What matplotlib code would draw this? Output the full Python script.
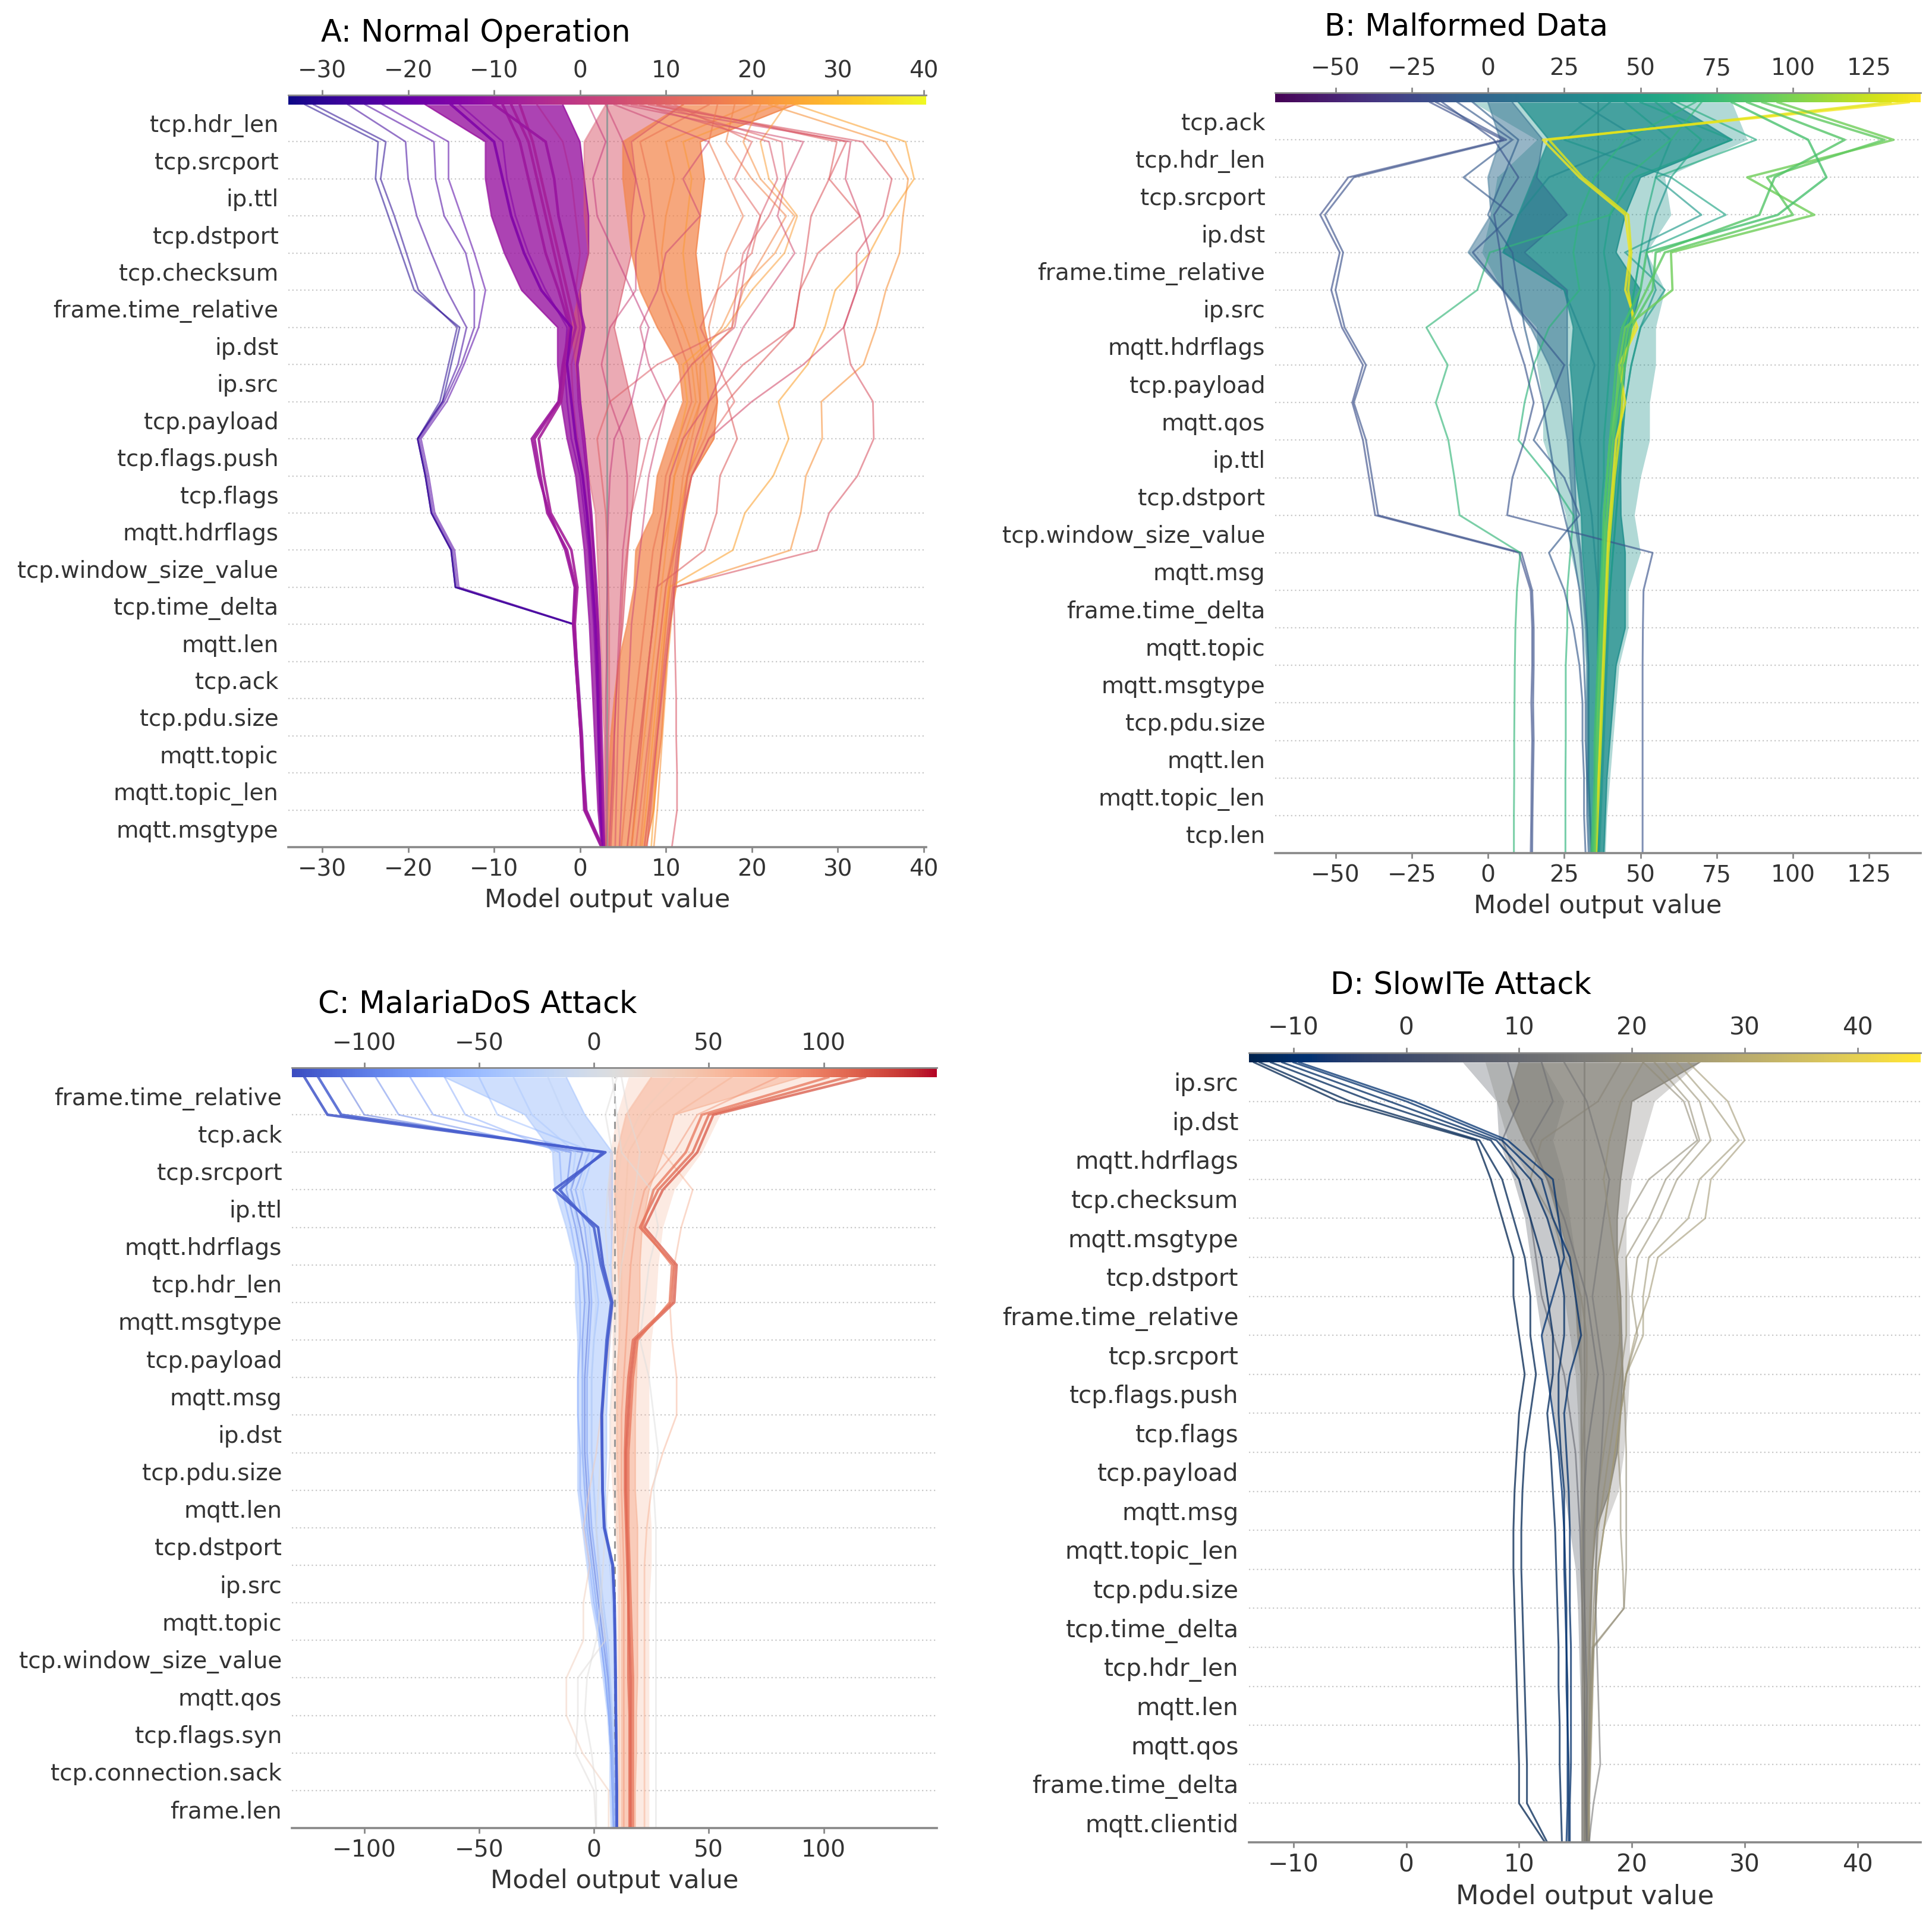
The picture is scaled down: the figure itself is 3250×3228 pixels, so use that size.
import numpy as np
import matplotlib.pyplot as plt
from matplotlib import cm
from matplotlib.colors import Normalize

W, H, DPI = 3250, 3228, 200

# every path lists the running model output from the top row (r0) down to the bottom (r20)
# dense bundles are given by their left / right edge per row

# ---------------- A: Normal Operation ----------------
A_FEATURES = ["tcp.hdr_len", "tcp.srcport", "ip.ttl", "tcp.dstport", "tcp.checksum",
              "frame.time_relative", "ip.dst", "ip.src", "tcp.payload", "tcp.flags.push",
              "tcp.flags", "mqtt.hdrflags", "tcp.window_size_value", "tcp.time_delta",
              "mqtt.len", "tcp.ack", "tcp.pdu.size", "mqtt.topic", "mqtt.topic_len", "mqtt.msgtype"]
A_BASE = 3.15
A_XLIM = (-33.95, 40.3)
A_TICKS = [-30, -20, -10, 0, 10, 20, 30, 40]

A_PURPLE_L = [-18, -11, -11, -10.3, -8.8, -6.8, -2.6, -2.6, -2.2, -1.5, -0.5, 0.0, 0.5, 0.8, 1.1, 1.3, 1.5, 1.7, 1.9, 2.1, 2.5]
A_PURPLE_R = [-2, 0, 0.5, 1, 1, 0, 0.3, -0.4, -0.2, 0.3, 0.8, 1.2, 1.6, 1.8, 2.1, 2.2, 2.3, 2.4, 2.5, 2.6, 2.8]
A_SALMON_L = [3, 0.5, 0.5, 0.5, 1, 0, -1, -0.5, 0, 0.5, 1, 1.8, 2, 2.2, 2.3, 2.5, 2.6, 2.8, 2.8, 2.8, 2.8]
A_SALMON_R = [12, 6, 6.5, 6, 6, 5, 4, 5, 6, 7, 6.5, 6, 5.6, 5.3, 5, 4.5, 4.2, 4, 4, 3.8, 3.6]
A_ORANGE_L = [12, 5, 5, 5.5, 6, 7, 9, 11.5, 12, 10.4, 9, 8.5, 6.5, 6.3, 5.5, 4.5, 4, 3.6, 3.4, 3.2, 3]
A_ORANGE_R = [25, 14, 14.5, 14, 13.5, 14, 14.5, 15.5, 16, 15.6, 13, 12.2, 11.6, 11.2, 10.5, 10.1, 9.8, 9.5, 9, 8.6, 7.7]

A_FAR_LEFT = [
    [-32, -23.5, -23.8, -22.3, -20.8, -19.3, -14.0, -15.0, -16.0, -18.9, -18.0, -17.3, -15.0, -14.5, -0.7, -0.5, -0.2, 0.1, 0.3, 0.6, 2.6],
    [-31, -22.6, -23.2, -21.6, -20.2, -18.8, -14.3, -15.3, -16.3, -18.9, -18.0, -17.3, -15.0, -14.5, -0.7, -0.5, -0.2, 0.1, 0.3, 0.6, 2.6],
    [-27, -20.3, -20.0, -19.0, -17.3, -15.5, -13.2, -14.2, -16.0, -18.9, -18.0, -17.3, -15.0, -14.5, -0.7, -0.4, -0.1, 0.2, 0.4, 0.7, 2.6],
    [-25, -17.0, -16.8, -15.8, -13.3, -12.3, -12.3, -13.8, -15.8, -18.7, -17.8, -17.1, -14.8, -14.3, -0.6, -0.4, -0.1, 0.2, 0.4, 0.7, 2.6],
    [-23, -15.3, -15.3, -13.8, -12.3, -11.0, -11.8, -13.5, -15.5, -18.5, -17.6, -16.9, -14.6, -14.1, -0.6, -0.3, 0.0, 0.3, 0.5, 0.8, 2.7],
]
A_PURPLE_V = [
    [-8, -6, -5, -4, -3, -2, -1, -1.9, -2.4, -5.3, -4.6, -3.8, -1.5, -0.5, -0.7, -0.5, -0.2, 0.1, 0.3, 0.6, 2.6],
    [-7, -5.5, -4.5, -3.5, -2.5, -1.5, -0.5, -1.6, -2.2, -4.8, -4.2, -3.4, -1.0, -0.3, -0.6, -0.4, -0.1, 0.2, 0.4, 0.7, 2.6],
    [-9, -7, -6, -5, -4, -2.5, -1.2, -2.0, -2.5, -5.6, -4.8, -3.6, -1.7, -0.6, -0.8, -0.5, -0.2, 0.1, 0.3, 0.5, 2.5],
    [-15, -10, -9, -8, -6.5, -4.5, -1.0, -1.5, -1.0, -0.5, 0.3, 0.8, 1.2, 1.5, 1.8, 2.0, 2.1, 2.2, 2.3, 2.4, 2.7],
    [-10, -4, -3, -2.5, -1.5, -0.5, 0.5, -0.3, 0.0, 0.5, 0.9, 1.3, 1.6, 1.9, 2.1, 2.3, 2.4, 2.5, 2.6, 2.7, 2.8],
]
A_INNER = [
    [-14, -9, -8.5, -7.5, -6, -4, -1.5, -1.8, -1.5, -1, 0, 0.5, 1, 1.3, 1.6, 1.8, 2, 2.1, 2.2, 2.3, 2.6],
    [-5, -2, -1, -0.5, 0, -0.5, 0, -1, -0.8, -0.3, 0.4, 0.9, 1.3, 1.6, 1.9, 2.1, 2.2, 2.3, 2.4, 2.5, 2.7],
    [20, 10, 11, 10, 9.5, 10, 12, 13.5, 14, 12.5, 11, 10.5, 9.5, 9, 8.5, 8, 7.6, 7.2, 6.8, 6.4, 6],
    [15, 7, 8, 8.5, 9, 9.5, 11, 12.5, 13, 11.5, 10, 9.5, 8.5, 8, 7.5, 7, 6.5, 6, 5.6, 5.2, 4.8],
    [23, 12, 13, 12.5, 12, 12.5, 13.5, 14.5, 15, 14, 12.5, 11.5, 10.8, 10.3, 9.8, 9.3, 8.9, 8.5, 8.1, 7.7, 7.2],
]
A_FAR_RIGHT = [
    [25, 37.9, 38.9, 36.0, 33.7, 29.7, 28.5, 26.5, 23.1, 24.3, 22.5, 19.2, 17.8, 10.4, 10.0, 9.6, 9.3, 9.0, 8.8, 8.6, 8.3],
    [22, 35.6, 38.2, 37.6, 37.2, 35.6, 34.5, 33.0, 28.1, 28.2, 26.3, 25.7, 24.5, 11.0, 10.6, 10.2, 9.9, 9.6, 9.3, 9.0, 8.6],
    [8, 32.9, 36.3, 35.3, 32.2, 32.2, 30.7, 31.5, 34.1, 34.2, 32.3, 29.0, 27.6, 10.9, 11.0, 11.1, 11.2, 11.2, 11.3, 11.3, 10.7],
    [10, 29.9, 29.0, 32.6, 27.7, 25.6, 24.9, 20.9, 17.1, 18.3, 16.3, 15.9, 14.5, 8.9, 8.5, 8.0, 7.6, 7.2, 6.8, 6.4, 6.0],
    [6, 31.5, 30.9, 32.6, 33.7, 32.2, 30.7, 26, 20, 15, 13, 12, 11.5, 11, 10.5, 10, 9.5, 9, 8.5, 8, 7.5],
    [9, 31, 29, 26.9, 26.3, 25.6, 24.9, 19, 15, 13.5, 12.5, 12, 11.3, 10.8, 10.3, 9.8, 9.4, 9, 8.6, 8.2, 7.8],
]
A_MID = [
    [24, 21, 22, 25.3, 23.8, 20, 17, 12, 12.5, 11.5, 10.5, 10, 9.5, 9, 8.5, 8, 7.5, 7, 6.5, 6, 5.5],
    [21, 19, 21, 25, 22.7, 18.5, 16.5, 13, 13.5, 12, 11, 10.5, 10, 9.5, 9, 8.5, 8, 7.5, 7, 6.5, 6],
    [18, 17, 20, 24, 21.5, 19, 17.7, 14, 14, 13, 12, 11.5, 10.8, 10, 9.5, 9, 8.6, 8.2, 7.8, 7.4, 7],
    [16, 15, 17, 19, 17, 16, 15, 15.5, 16, 14.5, 12.5, 11.8, 11, 10.5, 10, 9.6, 9.2, 8.8, 8.4, 8, 7.5],
    [9, 23.5, 24, 22, 19, 18.2, 17.7, 9, 3.5, 2, 2.5, 3, 3.2, 3.3, 3.4, 3.4, 3.4, 3.3, 3.3, 3.2, 3.1],
    [7, 22, 23, 21, 19.5, 18.8, 18, 13, 10, 8, 7, 6, 5.5, 5, 4.8, 4.6, 4.5, 4.4, 4.3, 4.2, 4.1],
    [3, 5, 6.5, 7.5, 6.5, 6.5, 3.5, 2.5, 3.5, 5, 5.5, 5.5, 5, 4.8, 4.6, 4.4, 4.2, 4, 3.8, 3.6, 3.4],
    [1, 3, 1.5, 2, 4, 6, 8, 7, 6, 4, 3.5, 3.3, 3.2, 3.2, 3.1, 3.1, 3.0, 3.0, 3.0, 3.0, 3.0],
    [5, 26, 24, 23, 25, 22, 19, 17, 15, 12, 10.5, 10, 9.5, 9, 8.5, 8, 7.5, 7, 6.5, 6, 5.5],
    [11, 20, 18, 21, 20, 16, 14, 16, 18, 15, 13, 12, 11, 10, 9.5, 9, 8.5, 8, 7.5, 7, 6.5],
    [4, 15, 12, 14, 10, 9, 7, 8, 10, 9, 8, 7.5, 7, 6.5, 6, 5.8, 5.5, 5.2, 5, 4.8, 4.6],
]

# ---------------- B: Malformed Data ----------------
B_FEATURES = ["tcp.ack", "tcp.hdr_len", "tcp.srcport", "ip.dst", "frame.time_relative", "ip.src",
              "mqtt.hdrflags", "tcp.payload", "mqtt.qos", "ip.ttl", "tcp.dstport",
              "tcp.window_size_value", "mqtt.msg", "frame.time_delta", "mqtt.topic",
              "mqtt.msgtype", "tcp.pdu.size", "mqtt.len", "mqtt.topic_len", "tcp.len"]
B_BASE = 36.0
B_XLIM = (-69.8, 141.9)
B_TICKS = [-50, -25, 0, 25, 50, 75, 100, 125]

B_SPREAD_L = [-5, 16, 3, 1, -2, 4.7, 16, 16, 18, 18, 22, 25.5, 27, 30, 31, 32, 32, 32, 32, 32.5, 33]
B_SPREAD_R = [80, 85, 58, 60, 52, 58, 55, 55, 53, 53, 50, 48, 50, 46, 46, 43, 42, 41, 40, 39, 38.5]
B_CORE_L = [10, 20, 15, 10, 5, 25, 28, 27, 28, 28, 29, 30.6, 31, 32, 32.5, 33, 33, 33, 33, 33.5, 34]
B_CORE_R = [60, 80, 50, 45, 42, 50, 47, 45, 44, 44, 43.5, 43.6, 45, 45, 45, 42, 41, 40, 39, 38.5, 38]
B_DARK_L = [0, 4, 0, 1, -6.5, 4.7, 14, 20, 24, 26, 27, 28, 30, 31, 32, 32.5, 32.5, 32.5, 32.5, 33, 33.5]
B_DARK_R = [8, 18, 16, 26, 12, 26, 26, 26, 27, 28, 28.5, 29, 30.5, 31.5, 32.5, 33, 33, 33, 33, 33.5, 34]

B_BRIGHT = [
    [138, 18, 30, 45, 46.5, 45, 49, 43, 45, 42, 41, 40, 39, 38.5, 38, 37.5, 37, 36.5, 36, 35.5, 35],
    [132, 20, 31, 46, 47, 46, 48, 44, 44, 43, 41.5, 40.5, 39.5, 39, 38.5, 38, 37.5, 37, 36.5, 36, 35.5],
    [95, 133, 85, 107, 60, 60.5, 45, 43, 42, 40, 39, 38, 38, 37, 37, 36.5, 36, 36, 35.5, 35.5, 35],
    [90, 130, 91.5, 100, 58, 52, 46, 44, 42, 41, 40, 39, 38, 37.5, 37, 36.5, 36, 35.5, 35.5, 35, 35],
    [85, 117, 94, 89, 55, 54, 47, 45, 43, 41, 40, 39, 38.5, 38, 37.5, 37, 36.5, 36, 35.5, 35, 34.5],
    [80, 105, 111, 95, 52, 50, 44, 42, 41, 40, 39, 38, 37.5, 37, 36.5, 36, 35.5, 35, 35, 34.5, 34],
]
B_OTHER = [
    [62, 88, 55, 52, 50, 48, 45, 44, 43, 42, 41, 40, 40, 39, 38.5, 38, 37.5, 37, 36.5, 36, 36],
    [50, 80, 48, 40, 38, 40, 40, 40, 39, 38, 38, 37, 37, 36.5, 36, 36, 35.5, 35, 35, 35, 35],
    [40, 25, 60, 55, 52, 55, 50, 47, 45, 44, 43, 42, 41, 40, 39.5, 39, 38.5, 38, 37.5, 37, 36.5],
    [55, 70, 60, 78, 50, 48, 46, 45, 44, 43, 42, 41, 40, 39, 38.5, 38, 37.5, 37, 36.5, 36, 36],
    [45, 60, 55, 70, 45, 58, 50, 47, 45, 44, 43, 42, 41, 40, 39, 38.5, 38, 37.5, 37, 36.5, 36],
    [30, 50, 20, 10, 5, 25, 30, 35, 32, 30, 32, 34, 35, 36, 36, 36, 35.5, 35.5, 35, 35, 35],
    [-19, 5, -45.8, -55, -48.6, -51.4, -47.9, -41, -44.5, -41, -39, -37, 10.2, 14, 14.5, 14.5, 14.2, 14.5, 14.3, 14.2, 14],
    [-17, 6, -44, -53.5, -47.5, -50, -47, -40, -44, -40, -38, -36, 11, 14.5, 15, 15, 14.8, 15, 14.8, 14.6, 14.5],
    [70, 60, 45, 40, 0.6, -3.5, -20.2, -13.2, -17.1, -13, -11, -9.3, 10.6, 9.5, 9, 8.8, 8.7, 8.6, 8.6, 8.5, 8.5],
    [68, 45, 35, 30, 28, 30, 20, 15, 12, 10, 20, 28, 27, 26, 26, 25.5, 25.5, 25.5, 25.4, 25.4, 25.4],
    [-15, 2, 10, 2, 4, 5, 8, 12, 15, 12, 8, 6.3, 54, 51, 50.8, 50.7, 50.7, 50.7, 50.7, 50.7, 50.7],
    [-5, 10, 5, 0, 8, 10, 12, 15, 18, 20, 22, 25, 28, 30, 31, 31.5, 32, 32, 32.5, 32.5, 33],
    [-10, 8, -8, 8, -5, 5, 15, 25, 20, 15, 25, 30, 20, 25, 28, 30, 31, 31, 31.5, 31.5, 32],
]

# ---------------- C: MalariaDoS Attack ----------------
C_FEATURES = ["frame.time_relative", "tcp.ack", "tcp.srcport", "ip.ttl", "mqtt.hdrflags",
              "tcp.hdr_len", "mqtt.msgtype", "tcp.payload", "mqtt.msg", "ip.dst", "tcp.pdu.size",
              "mqtt.len", "tcp.dstport", "ip.src", "mqtt.topic", "tcp.window_size_value",
              "mqtt.qos", "tcp.flags.syn", "tcp.connection.sack", "frame.len"]
C_BASE = 8.9
C_XLIM = (-131.5, 149.3)
C_TICKS = [-100, -50, 0, 50, 100]

C_BLUE_L = [-65, -30, -18, -17, -12, -8, -8, -7, -7, -7, -7, -7, -5, -3, -1, 2, 4, 6, 7, 7, 7.5]
C_BLUE_R = [-12, -4, 8, 8, 8, 7.5, 8.3, 7, 6, 5.5, 5.5, 5, 5.5, 7, 8, 9, 9.5, 9.8, 10, 10, 10]
C_WARM_L = [15, 10, 7, 6, 7, 8, 8, 8, 8, 7, 7, 8, 9, 10, 10, 10, 10, 10, 10, 10, 10]
C_WARM_R = [115, 55, 47, 35, 30, 28, 27, 25, 24, 24, 24, 24, 25, 25, 24, 24, 24, 24, 24, 24, 24]
C_CORE_L = [25, 14, 10, 9, 10, 10.5, 11, 11, 10, 10, 10, 10.5, 11, 11.5, 12, 12, 12, 12, 12, 12, 12]
C_CORE_R = [90, 35, 30, 24, 21, 20, 20, 19, 18.5, 18, 18, 18, 19, 19, 19, 19, 19, 18.5, 18.5, 18, 18]

C_BLUE_BOLD = [
    [-126, -116, 5, -17.5, 1.8, 4, 8, 6, 4.6, 3.5, 3.6, 3.8, 4.6, 8.3, 9, 9.3, 9.5, 9.6, 9.8, 10, 10],
    [-120, -110, 4, -15, 0, 3, 7.5, 5.5, 4.4, 3.3, 3.5, 3.7, 4.4, 8, 8.8, 9.1, 9.3, 9.5, 9.7, 9.8, 9.9],
]
C_BLUE_FAN = [
    [-110, -100, -5, -10, -6, -3, -2, -3, -4, -4, -4, -3, -2, 0, 2, 4, 6, 7, 8, 8.5, 9],
    [-95, -85, -10, -12, -8, -5, -4, -5, -5, -5, -5, -4, -3, -1, 1, 3, 5, 6.5, 7.5, 8, 8.5],
    [-80, -70, -2, -8, -4, -2, -1, -2, -3, -3, -3, -2, -1, 1, 3, 5, 6.5, 7.5, 8.3, 8.8, 9.2],
    [-65, -56, -15, -14, -10, -7, -6, -6, -7, -7, -6, -6, -4, -2, 0, 3, 5, 6.5, 7.5, 8, 8.5],
    [-50, -42, 0, -5, -2, 0, 2, 0, -1, -1, -1, 0, 1, 2, 4, 6, 7, 8, 9, 9.3, 9.6],
    [-35, -27, -8, -10, -7, -5, -3, -4, -5, -5, -5, -4, -3, -1, 1, 3.5, 5.5, 7, 8, 8.5, 9],
    [-20, -13, -2, -6, -3, -1, 1, 0, -1, -1, -1, 0, 1, 2.5, 4, 6, 7, 8, 8.8, 9.2, 9.5],
]
C_RED = [
    [118, 52, 45, 30, 22, 36, 35, 18, 16, 15, 14, 14, 14.5, 15, 15, 15.5, 16, 16, 16, 16, 16],
    [110, 50, 43, 28, 20, 35, 34, 17, 15, 14, 13.5, 13.5, 14, 14.5, 15, 15, 15, 15.5, 15.5, 15.5, 15.5],
    [102, 47, 40, 26, 21, 34, 33, 19, 17, 16, 15, 15, 15, 15.5, 16, 16.5, 17, 17, 17, 17, 17],
]
C_OTHER = [
    [60, 35, 30, 43, 38, 35, 33, 34, 36, 36, 30, 25, 23, 22, 22, 22, 22, 22, 22, 22, 22],
    [35, 20, 12, 10, 9, 8, 8, 7, 5, 3, 1, -2, -4.6, -1.8, -4.6, -4.6, -12, -12, -5, 6.4, 6.4],
    [45, 25, 15, 14, 13, 12, 12, 11, 10, 10, 10, 10, 10, 11, 11, 11, 11, 11, 11, 11, 11],
    [80, 45, 35, 22, 18, 16, 15, 14, 13, 12, 12, 12, 12.5, 13, 13, 13, 13, 13, 13, 13, 13],
    [12, 15, 20, 18, 15, 12, 10, 9, 8, 7, 7, 6, 5, 4, 3, 5, -7, -7, -8, 0, 0.9],
    [8, 10, 12, 25, 28, 24, 22, 20, 24, 26, 28, 26, 27, 27, 27, 27, 27, 27, 27, 27, 27],
    [10, 5, 8, 6, 5, 6, 7, 6, 5, 4, 3, 2, 1, 2, 3, 1, -3, -4, -1, 1, 1],
]

# ---------------- D: SlowITe Attack ----------------
D_FEATURES = ["ip.src", "ip.dst", "mqtt.hdrflags", "tcp.checksum", "mqtt.msgtype", "tcp.dstport",
              "frame.time_relative", "tcp.srcport", "tcp.flags.push", "tcp.flags", "tcp.payload",
              "mqtt.msg", "mqtt.topic_len", "tcp.pdu.size", "tcp.time_delta", "tcp.hdr_len",
              "mqtt.len", "mqtt.qos", "frame.time_delta", "mqtt.clientid"]
D_BASE = 15.8
D_XLIM = (-13.94, 45.6)
D_TICKS = [-10, 0, 10, 20, 30, 40]

D_SLATE_L = [5, 8, 8.2, 9.5, 10.5, 11, 11.5, 12, 12.5, 13, 13.5, 14, 14.5, 15, 15.2, 15.3, 15.4, 15.5, 15.5, 15.5, 15.5]
D_SLATE_R = [12, 14, 13, 14, 14.5, 15, 15.5, 15.5, 15.6, 15.6, 15.6, 15.6, 15.6, 15.6, 15.6, 15.6, 15.6, 15.6, 15.6, 15.6, 15.6]
D_SPREAD_L = [7, 8, 9, 11, 12.5, 13.5, 14, 14.5, 15, 15.2, 15.3, 15.4, 15.5, 15.5, 15.5, 15.5, 15.5, 15.5, 15.5, 15.5, 15.5]
D_SPREAD_R = [26, 22, 21, 20, 19.5, 19.5, 19.8, 19.8, 19.8, 19.6, 19.3, 18.8, 17.5, 17, 16.8, 16.7, 16.6, 16.5, 16.4, 16.3, 16.3]
D_CORE_L = [10, 9, 10.5, 12.5, 13.5, 14.5, 15, 15.2, 15.5, 15.5, 15.5, 15.6, 15.6, 15.6, 15.6, 15.6, 15.6, 15.6, 15.6, 15.6, 15.6]
D_CORE_R = [26, 20, 19.5, 19, 18.7, 18.7, 19, 19.1, 19.2, 19, 18.7, 18, 16.8, 16.5, 16.4, 16.3, 16.3, 16.2, 16.2, 16.2, 16.2]

D_NAVY = [
    [-13.5, -6, 6.2, 7.5, 8.5, 9.5, 9.5, 10, 10.5, 10, 9.8, 9.6, 9.5, 9.5, 9.6, 9.7, 9.8, 9.9, 10, 10, 12.3],
    [-13, -5, 6.5, 8.5, 9.5, 10.5, 11, 11, 11.5, 11, 10.5, 10.3, 10.2, 10.2, 10.3, 10.4, 10.5, 10.6, 10.7, 10.7, 12.5],
    [-12, -3, 7.5, 10, 11, 12, 12.5, 13, 13, 12.5, 12.8, 13, 13.2, 13.3, 13.4, 13.5, 13.5, 13.6, 13.6, 13.7, 13.8],
    [-11, -1.5, 8, 11, 12.5, 13.5, 14, 14, 13.5, 13.5, 13.7, 14, 14, 14.1, 14.2, 14.2, 14.3, 14.3, 14.4, 14.4, 14.4],
    [-10, 0, 8.5, 12, 13, 14.5, 15, 15.5, 14.5, 14, 14.2, 14.4, 14.5, 14.5, 14.5, 14.6, 14.6, 14.6, 14.6, 14.5, 14.5],
    [-9.5, 0.7, 9, 13, 13.5, 14, 13, 12, 12.5, 13, 13.5, 13.8, 14, 14, 14.1, 14.2, 14.2, 14.3, 14.3, 14.3, 14.2],
]
D_OTHER = [
    [25, 28.5, 30, 27, 26.5, 22.3, 21.5, 20.3, 19.5, 19, 18.5, 18, 17.5, 17, 16.8, 16.6, 16.5, 16.4, 16.3, 16.2, 16.2],
    [24, 27, 29.5, 26, 25, 21.5, 21, 21, 19.5, 19, 18.5, 18, 17.5, 17, 16.8, 16.6, 16.5, 16.4, 16.3, 16.2, 16.2],
    [23, 26, 27, 24, 22.5, 20.5, 20, 20.5, 19.5, 19, 18.8, 19, 19, 19.2, 19.3, 16.5, 16.3, 16.2, 16.1, 16, 16],
    [22, 25, 26, 23, 21.5, 19.5, 19.5, 19.5, 19, 18.5, 18, 17.5, 17, 16.8, 16.6, 16.5, 16.4, 16.3, 16.2, 16.1, 16],
    [21, 24.6, 25.8, 21.5, 19.5, 18.7, 18.7, 19, 18.5, 18, 17.5, 17, 16.7, 16.5, 16.3, 16.2, 16.1, 16, 16, 15.9, 15.9],
    [9, 10, 8.5, 10, 11, 11.5, 12, 13, 14, 14.5, 15, 15.2, 15.4, 15.5, 15.6, 15.7, 15.8, 15.8, 15.9, 15.9, 16],
    [19, 17, 12, 11, 13, 14, 15.5, 16, 16, 15.8, 15.6, 15.5, 15.5, 15.5, 15.6, 15.7, 15.8, 15.9, 16, 16, 16.1],
    [14, 16, 17, 18, 17.5, 17, 16.5, 17, 17.5, 17.5, 17.3, 17, 16.9, 16.8, 16.8, 16.9, 17, 17.1, 17.2, 16.6, 16.2],
    [21, 19, 18, 17.5, 18, 18.5, 19, 18.9, 19.2, 19.4, 19.5, 19.5, 19.5, 19.5, 19.3, 16.6, 16.4, 16.3, 16.2, 16.1, 16],
    [12, 13, 11, 12.5, 14, 15, 16, 16.5, 17, 16.5, 16, 15.8, 15.7, 15.7, 15.8, 15.9, 16, 16, 16, 16, 16],
]

TXT = "#333333"
GRID = "#c8c8c8"
AXC = "#888888"
ROWS = np.arange(20, -1, -1)

fig = plt.figure(figsize=(W / DPI, H / DPI), dpi=DPI)


def panel(box, title, title_at, feats, base, xlim, ticks, cmap_name, bands, groups,
          base_ls="-", base_top=True, s=1.0):
    x0, y0, x1, y1 = box
    ax = fig.add_axes([x0 / W, 1 - y1 / H, (x1 - x0) / W, (y1 - y0) / H])
    cmap = plt.get_cmap(cmap_name)
    norm = Normalize(*xlim)

    for left, right, alpha, edge in bands:
        c = cmap(norm((left[0] + right[0]) / 2))
        ax.fill_betweenx(ROWS, left, right, color=c, alpha=alpha, lw=0, zorder=1.5)
        if edge:
            ax.plot(left, ROWS, color=c, lw=0.9, alpha=alpha, zorder=1.6)
            ax.plot(right, ROWS, color=c, lw=0.9, alpha=alpha, zorder=1.6)

    for paths, lw, alpha in groups:
        for p in paths:
            ax.plot(p, ROWS, color=cmap(norm(p[0])), lw=lw, alpha=alpha, zorder=2)

    ax.axvline(base, color="#999999", lw=1.1, ls=base_ls, zorder=1.8 if base_top else 0.5)
    for i in range(1, 20):
        ax.axhline(i, color=GRID, lw=0.8, dashes=(1, 2), zorder=0)

    ax.set_xlim(xlim)
    ax.set_ylim(0, 20)
    ax.set_yticks(np.arange(20) + 0.5)
    ax.set_yticklabels(feats[::-1])
    ax.set_xticks(ticks)
    for sp in ("top", "left", "right"):
        ax.spines[sp].set_visible(False)
    ax.spines["bottom"].set_color(AXC)
    ax.spines["bottom"].set_linewidth(1.3)
    ax.tick_params(axis="y", length=0, pad=6 * s, labelsize=13.9 * s, labelcolor=TXT)
    ax.tick_params(axis="x", length=3.2, width=1, color=AXC, pad=3.5,
                   labelsize=14.0 * s, labelcolor=TXT)
    ax.set_xlabel("Model output value", fontsize=15.4 * s, color=TXT, labelpad=4 * s)

    # colour bar strip on top, a quarter of a row high
    cax = ax.inset_axes([0, 1, 1, 0.25 / 20])
    cb = fig.colorbar(cm.ScalarMappable(norm=norm, cmap=cmap), cax=cax, orientation="horizontal")
    cb.outline.set_visible(False)
    cb.minorticks_off()
    cb.set_ticks(ticks)
    cax.xaxis.set_ticks_position("top")
    cax.tick_params(axis="x", length=3.2, width=1, color=AXC, pad=4.5,
                    labelsize=14.0 * s, labelcolor=TXT)
    cax.plot([0, 1], [1, 1], transform=cax.transAxes, color=AXC, lw=1, clip_on=False)

    fig.text(title_at[0] / W, 1 - title_at[1] / H, title, ha="center", va="center",
             fontsize=18.3, color="black")
    return ax


panel((485, 176, 1558, 1425), "A: Normal Operation", (800, 56), A_FEATURES, A_BASE, A_XLIM,
      A_TICKS, "plasma",
      [(A_PURPLE_L, A_PURPLE_R, 0.8, True), (A_SALMON_L, A_SALMON_R, 0.5, True),
       (A_ORANGE_L, A_ORANGE_R, 0.72, True)],
      [(A_INNER, 1.0, 0.6), (A_FAR_LEFT, 1.0, 0.55), (A_FAR_RIGHT, 1.0, 0.6), (A_MID, 1.0, 0.55),
       (A_PURPLE_V, 1.6, 0.9)],
      base_ls="-", base_top=True, s=1.0)

panel((2145, 172, 3231, 1435), "B: Malformed Data", (2466, 46), B_FEATURES, B_BASE, B_XLIM,
      B_TICKS, "viridis",
      [(B_SPREAD_L, B_SPREAD_R, 0.35, False), (B_CORE_L, B_CORE_R, 0.75, True),
       (B_DARK_L, B_DARK_R, 0.5, True)],
      [(B_OTHER, 1.1, 0.65), (B_BRIGHT, 1.4, 0.8)],
      base_ls="-", base_top=False, s=1.011)

panel((491, 1812, 1576, 3075), "C: MalariaDoS Attack", (803, 1689), C_FEATURES, C_BASE, C_XLIM,
      C_TICKS, "coolwarm",
      [(C_BLUE_L, C_BLUE_R, 0.55, True), (C_WARM_L, C_WARM_R, 0.25, False),
       (C_CORE_L, C_CORE_R, 0.55, True)],
      [(C_BLUE_FAN, 1.0, 0.5), (C_OTHER, 1.0, 0.5), (C_RED, 1.5, 0.75), (C_BLUE_BOLD, 1.6, 0.85)],
      base_ls=(0, (4, 3)), base_top=True, s=1.011)

panel((2101, 1787, 3231, 3099), "D: SlowITe Attack", (2457, 1658), D_FEATURES, D_BASE, D_XLIM,
      D_TICKS, "cividis",
      [(D_SLATE_L, D_SLATE_R, 0.35, False), (D_SPREAD_L, D_SPREAD_R, 0.3, False),
       (D_CORE_L, D_CORE_R, 0.7, True)],
      [(D_OTHER, 1.0, 0.6), (D_NAVY, 1.1, 0.75)],
      base_ls="-", base_top=False, s=1.05)

fig.savefig("out.png", dpi=DPI)
